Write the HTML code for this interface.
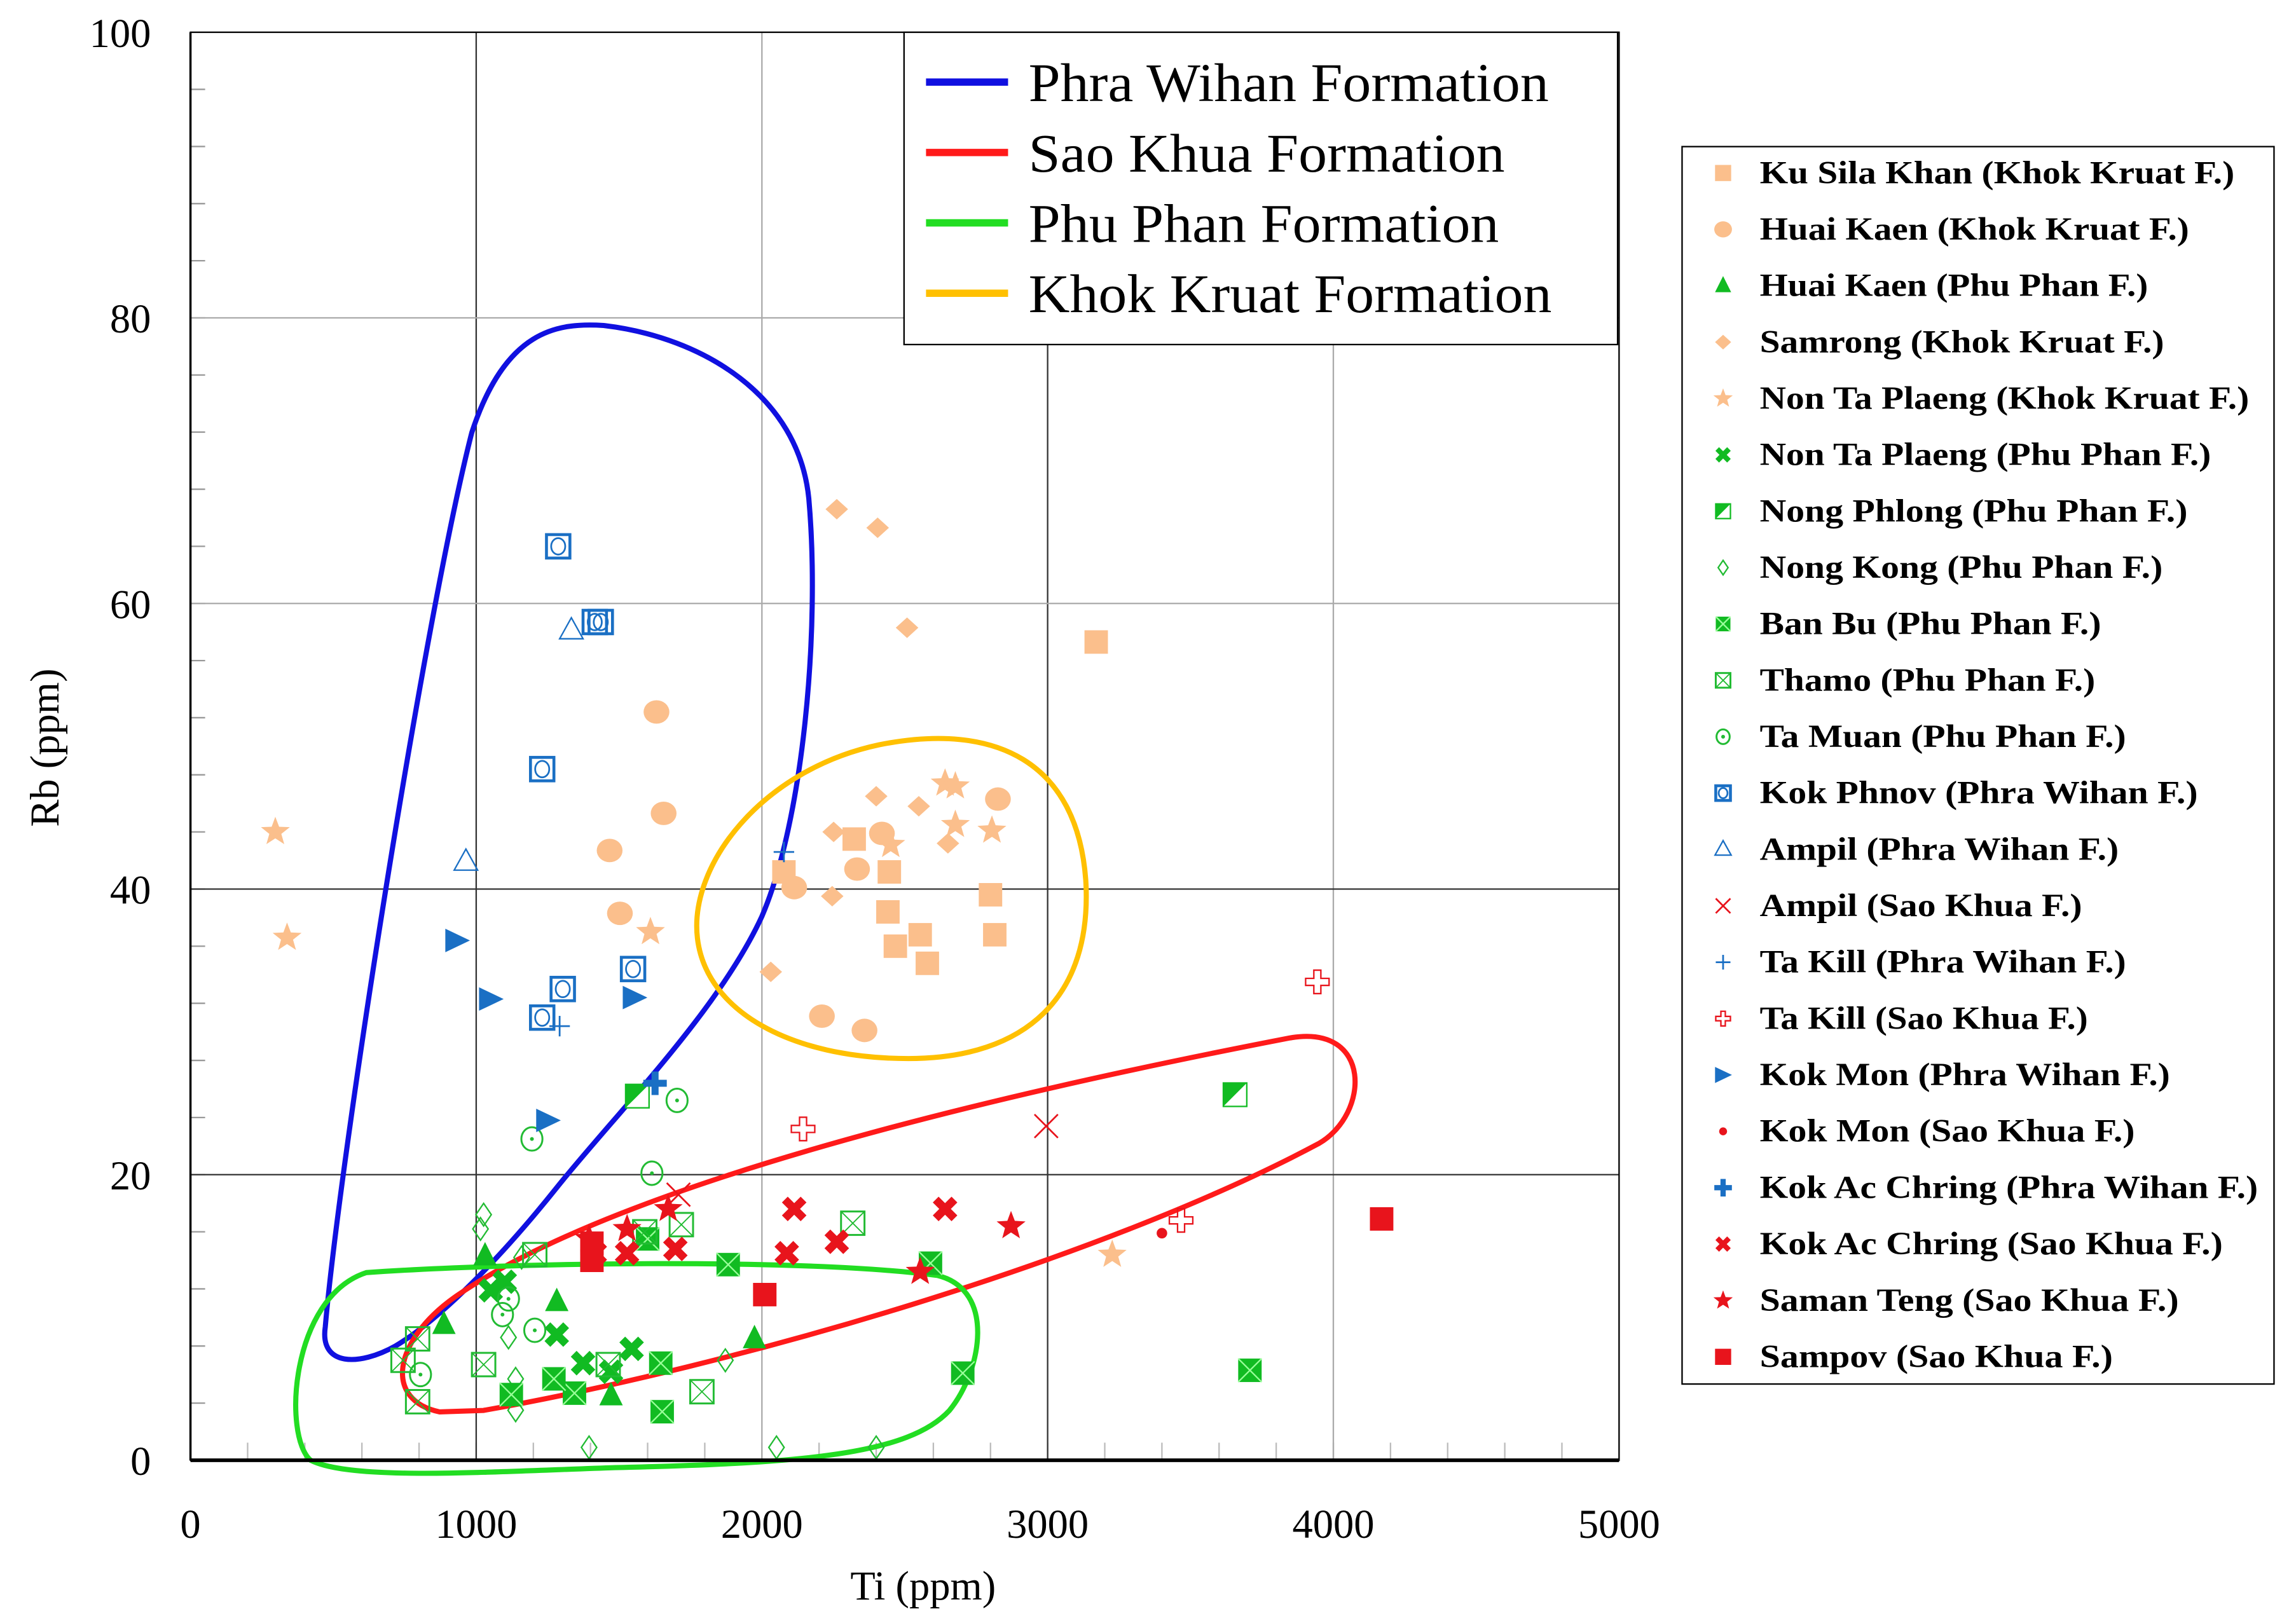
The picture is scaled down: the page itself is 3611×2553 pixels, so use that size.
<!DOCTYPE html>
<html><head><meta charset="utf-8"><style>
html,body{margin:0;padding:0;background:#fff;}
svg{display:block;}
text{font-family:"Liberation Serif",serif;}
</style></head><body>
<svg id="chart" width="3611" height="2553" viewBox="0 0 1567 1107" preserveAspectRatio="none" xmlns="http://www.w3.org/2000/svg">
<rect x="0" y="0" width="1567" height="1107" fill="#fff"/>
<g id="grid"></g>
<g id="curves">
<path d="M 222,905 C 232,790 290,420 322,295 C 345,225 380,220 412,222 C 480,230 545,270 552,340 C 560,430 548,560 520,625 C 490,690 420,760 380,810 C 340,860 300,900 270,918 C 245,932 218,932 222,905 Z" fill="none" stroke="#1010e0" stroke-width="3.5"/>
<path d="M 476,640 C 470,590 520,525 600,508 C 680,492 735,520 741,600 C 746,680 700,722 620,722 C 540,722 482,690 476,640 Z" fill="none" stroke="#ffc000" stroke-width="3.5"/>
<path d="M 300,963 C 262,955 268,915 310,885 C 400,822 600,762 880,708 C 937,698 935,760 900,780 C 750,860 500,932 330,962 Z" fill="none" stroke="#ff1a1a" stroke-width="3.5"/>
<path d="M 250,868 C 350,861 550,858 640,870 C 680,880 670,935 648,962 C 620,992 550,998 420,1001 C 330,1004 240,1010 212,996 C 193,980 198,885 250,868 Z" fill="none" stroke="#22dd22" stroke-width="3.5"/>
</g>
<g id="marks"></g>
<g id="axes"></g>
<g>
<rect x="617" y="22" width="487" height="213" fill="#fff" stroke="#000" stroke-width="1"/>
<line x1="632" y1="56" x2="688" y2="56" stroke="#1010e0" stroke-width="5"/>
<text x="702" y="69" font-size="37" textLength="355" lengthAdjust="spacingAndGlyphs">Phra Wihan Formation</text>
<line x1="632" y1="104" x2="688" y2="104" stroke="#ff1a1a" stroke-width="5"/>
<text x="702" y="117" font-size="37" textLength="325" lengthAdjust="spacingAndGlyphs">Sao Khua Formation</text>
<line x1="632" y1="152" x2="688" y2="152" stroke="#22dd22" stroke-width="5"/>
<text x="702" y="165" font-size="37" textLength="321" lengthAdjust="spacingAndGlyphs">Phu Phan Formation</text>
<line x1="632" y1="200" x2="688" y2="200" stroke="#ffc000" stroke-width="5"/>
<text x="702" y="213" font-size="37" textLength="357" lengthAdjust="spacingAndGlyphs">Khok Kruat Formation</text>
</g>
<g id="legend2">
<rect x="1148" y="100" width="404" height="844" fill="#fff" stroke="#000" stroke-width="1"/>
</g>
</svg>
<script>
const xTicks=[0,1000,2000,3000,4000,5000];
const yTicks=[0,20,40,60,80,100];
const seriesNames=["Ku Sila Khan (Khok Kruat F.)","Huai Kaen (Khok Kruat F.)","Huai Kaen (Phu Phan F.)","Samrong (Khok Kruat F.)","Non Ta Plaeng (Khok Kruat F.)","Non Ta Plaeng (Phu Phan F.)","Nong Phlong (Phu Phan F.)","Nong Kong (Phu Phan F.)","Ban Bu (Phu Phan F.)","Thamo (Phu Phan F.)","Ta Muan (Phu Phan F.)","Kok Phnov (Phra Wihan F.)","Ampil (Phra Wihan F.)","Ampil (Sao Khua F.)","Ta Kill (Phra Wihan F.)","Ta Kill (Sao Khua F.)","Kok Mon (Phra Wihan F.)","Kok Mon (Sao Khua F.)","Kok Ac Chring (Phra Wihan F.)","Kok Ac Chring (Sao Khua F.)","Saman Teng (Sao Khua F.)","Sampov (Sao Khua F.)"];
const legendEnds=[1525,1494,1466,1477,1535,1509,1493,1476,1434,1430,1451,1500,1446,1421,1451,1425,1481,1457,1541,1517,1487,1442];
const seriesMarker=["square","circle","triangle","diamond","star","xbold","halfsq","odiamond","boxx","oboxx","dotcircle","sqcircle","otriangle","xthin","plus","ocross","rtri","dot","plusbold","xbold","star","square"];
const seriesColor=["#fbbf8c","#fbbf8c","#11bb22","#fbbf8c","#fbbf8c","#11bb22","#11bb22","#22bb33","#11bb22","#22bb33","#22bb33","#1a6fc4","#1a6fc4","#e8141c","#1a6fc4","#e8141c","#1a6fc4","#e8141c","#1a6fc4","#e8141c","#e8141c","#e8141c"];
const tiValues=[
[3170,2077,2446,2323,2441,2467,2554,2579,2800,2815],
[1631,1656,1467,1503,2113,2210,2359,2420,2333,2826],
[887,1031,1282,1472,1974],
[2262,2405,2508,2400,2549,2251,2246,2651,2031],
[297,338,1610,2641,2677,2805,2677,2451,3226],
[1051,1282,1374,1544,1472,1100],
[1564,3656],
[1026,1015,1113,1138,1138,1395,2051,2400,1872,1159],
[1882,2590,2703,3708,1651,1344,1123,1646,1272,1600],
[795,744,1026,1718,2318,1790,1462,1590,1205,795],
[1195,1703,1615,1205,1113,1092,805],
[1287,1415,1436,1231,1303,1231,1549],
[1333,964],
[2995,1708],
[2077,1292],
[3944,2144,3467],
[933,1051,1554,1251],
[3400],
[1626],
[2113,2641,2087,2262,1528,1415,1697],
[1672,2872,2554,1528,1395],
[4169,2010,1405,1405]];
const rbValues=[
[57.3,41.2,41.2,43.5,38.4,36,36.8,34.8,39.6,36.8],
[52.4,45.3,42.7,38.3,40.1,31.1,30.1,43.9,41.4,46.3],
[9.5,14.3,11.1,4.5,8.5],
[66.6,65.3,58.3,46.5,45.8,44,39.5,43.2,34.2],
[44,36.6,37,47.4,47.2,44.1,44.5,43.1,14.4],
[11.9,8.8,6.8,7.8,6.2,12.5],
[25.5,25.6],
[17.2,16.2,8.6,5.7,3.5,0.9,0.9,0.9,7,14.2],
[13.7,13.8,6.1,6.3,3.4,4.7,4.6,6.8,5.7,15.5],
[4.1,7,6.7,16.5,16.6,4.8,6.7,16,14.4,8.5],
[22.5,25.2,20.1,9.1,11.3,10.2,6],
[64,58.7,58.7,48.4,33,31,34.4],
[58.1,41.9],
[23.4,18.6],
[42.6,30.4],
[33.5,23.2,16.8],
[36.4,32.3,32.4,23.8],
[15.9],
[26.4],
[17.6,17.6,14.5,15.3,14.5,14.5,14.8],
[17.6,16.4,13.2,16.2,15.5],
[16.9,11.6,14,15.2]];
const NS="http://www.w3.org/2000/svg";
const X0=130,X1=1105,Y0=996,Y1=22;
function sx(v){return X0+(v-0)/5000*(X1-X0);}
function sy(v){return Y0-(v-0)/100*(Y0-Y1);}
function mk(tag,attrs,parent){const e=document.createElementNS(NS,tag);for(const k in attrs)e.setAttribute(k,attrs[k]);parent.appendChild(e);return e;}
const grid=document.getElementById('grid');
for(let v=200;v<5000;v+=200){mk('line',{x1:sx(v),x2:sx(v),y1:Y0,y2:Y0-12,stroke:'#bbb','stroke-width':1},grid);}
for(let v=4;v<100;v+=4){mk('line',{x1:X0,x2:X0+10,y1:sy(v),y2:sy(v),stroke:'#999','stroke-width':1},grid);}
xTicks.forEach((t,i)=>{if(i>0&&i<xTicks.length-1){const g=mk('line',{x1:sx(t),x2:sx(t),y1:Y0,y2:Y1,stroke:(i%2==1)?'#333':'#aaa','stroke-width':1},grid);}});
yTicks.forEach((t,i)=>{if(i>0&&i<yTicks.length-1){const g=mk('line',{x1:X0,x2:X1,y1:sy(t),y2:sy(t),stroke:(i<=2)?'#333':'#aaa','stroke-width':1},grid);}});
const axes=document.getElementById('axes');
mk('rect',{x:X0,y:Y1,width:X1-X0,height:Y0-Y1,fill:'none',stroke:'#000','stroke-width':1},axes);
mk('line',{x1:X0,x2:X1,y1:Y0,y2:Y0,stroke:'#000','stroke-width':2.5},axes);
mk('line',{x1:X0,x2:X0,y1:Y0,y2:Y1,stroke:'#000','stroke-width':1.5},axes);
xTicks.forEach(t=>{const e=mk('text',{x:sx(t),y:1049,'font-size':28,'text-anchor':'middle'},axes);e.textContent=t;});
yTicks.forEach(t=>{const e=mk('text',{x:103,y:sy(t)+10,'font-size':28,'text-anchor':'end'},axes);e.textContent=t;});
const xt=mk('text',{x:630,y:1091,'font-size':28,'text-anchor':'middle'},axes);xt.textContent='Ti (ppm)';


const yt=mk('text',{x:0,y:0,'font-size':28,'text-anchor':'middle',transform:'translate(40,510) rotate(-90)'},axes);yt.textContent='Rb (ppm)';


function star(cx,cy,R){let p=[];for(let i=0;i<10;i++){const r=i%2?R*0.42:R;const a=-Math.PI/2+i*Math.PI/5;p.push((cx+r*Math.cos(a)).toFixed(1)+','+(cy+r*Math.sin(a)).toFixed(1));}return p.join(' ');}
function drawMarker(type,cx,cy,s,c,parent){
const g=mk('g',{},parent);
switch(type){
case 'square':mk('rect',{x:cx-s,y:cy-s,width:2*s,height:2*s,fill:c},g);break;
case 'circle':mk('ellipse',{cx:cx,cy:cy,rx:s*1.1,ry:s,fill:c},g);break;
case 'triangle':mk('polygon',{points:`${cx},${cy-s*1.2} ${cx-s},${cy+s*0.8} ${cx+s},${cy+s*0.8}`,fill:c},g);break;
case 'otriangle':mk('polygon',{points:`${cx},${cy-s*1.1} ${cx-s},${cy+s*0.7} ${cx+s},${cy+s*0.7}`,fill:'none',stroke:c,'stroke-width':1},g);break;
case 'diamond':mk('polygon',{points:`${cx},${cy-s} ${cx+s*1.1},${cy} ${cx},${cy+s} ${cx-s*1.1},${cy}`,fill:c},g);break;
case 'odiamond':mk('polygon',{points:`${cx},${cy-s*1.1} ${cx+s*0.75},${cy} ${cx},${cy+s*1.1} ${cx-s*0.75},${cy}`,fill:'none',stroke:c,'stroke-width':1},g);break;
case 'star':mk('polygon',{points:star(cx,cy,s*1.15),fill:c},g);break;
case 'xbold':mk('path',{d:`M${cx-s*0.8},${cy-s*0.8}L${cx+s*0.8},${cy+s*0.8}M${cx+s*0.8},${cy-s*0.8}L${cx-s*0.8},${cy+s*0.8}`,stroke:c,'stroke-width':s*0.7,fill:'none'},g);break;
case 'xthin':mk('path',{d:`M${cx-s},${cy-s}L${cx+s},${cy+s}M${cx+s},${cy-s}L${cx-s},${cy+s}`,stroke:c,'stroke-width':1.2,fill:'none'},g);break;
case 'plus':mk('path',{d:`M${cx-s},${cy}L${cx+s},${cy}M${cx},${cy-s}L${cx},${cy+s}`,stroke:c,'stroke-width':1.2,fill:'none'},g);break;
case 'plusbold':mk('path',{d:`M${cx-s},${cy}L${cx+s},${cy}M${cx},${cy-s}L${cx},${cy+s}`,stroke:c,'stroke-width':s*0.6,fill:'none'},g);break;
case 'ocross':mk('path',{d:`M${cx-s*0.3},${cy-s}h${s*0.6}v${s*0.7}h${s*0.7}v${s*0.6}h${-s*0.7}v${s*0.7}h${-s*0.6}v${-s*0.7}h${-s*0.7}v${-s*0.6}h${s*0.7}z`,stroke:c,'stroke-width':1,fill:'none'},g);break;
case 'halfsq':mk('rect',{x:cx-s,y:cy-s,width:2*s,height:2*s,fill:'#fff',stroke:c,'stroke-width':1},g);mk('polygon',{points:`${cx-s},${cy-s} ${cx+s},${cy-s} ${cx-s},${cy+s}`,fill:c},g);break;
case 'boxx':mk('rect',{x:cx-s,y:cy-s,width:2*s,height:2*s,fill:c},g);mk('path',{d:`M${cx-s},${cy-s}L${cx+s},${cy+s}M${cx+s},${cy-s}L${cx-s},${cy+s}`,stroke:'#9f9','stroke-width':1},g);break;
case 'oboxx':mk('rect',{x:cx-s,y:cy-s,width:2*s,height:2*s,fill:'none',stroke:c,'stroke-width':1.3},g);mk('path',{d:`M${cx-s},${cy-s}L${cx+s},${cy+s}M${cx+s},${cy-s}L${cx-s},${cy+s}`,stroke:c,'stroke-width':0.8},g);break;
case 'dotcircle':mk('ellipse',{cx:cx,cy:cy,rx:s*0.9,ry:s,fill:'none',stroke:c,'stroke-width':1.3},g);mk('circle',{cx:cx,cy:cy,r:1.3,fill:c},g);break;
case 'sqcircle':mk('rect',{x:cx-s,y:cy-s,width:2*s,height:2*s,fill:'none',stroke:c,'stroke-width':2},g);mk('ellipse',{cx:cx,cy:cy,rx:s*0.6,ry:s*0.7,fill:'none',stroke:c,'stroke-width':1.2},g);break;
case 'rtri':mk('polygon',{points:`${cx-s},${cy-s} ${cx+s*1.1},${cy} ${cx-s},${cy+s}`,fill:c},g);break;
case 'dot':mk('circle',{cx:cx,cy:cy,r:s*0.45,fill:c},g);break;
}
return g;}
const marks=document.getElementById('marks');
const sizes={square:8,circle:8,triangle:8,diamond:7,star:9,xbold:8,halfsq:8,odiamond:7,boxx:8,oboxx:8,dotcircle:8,sqcircle:8,otriangle:8,xthin:8,plus:7,ocross:8,rtri:8,dot:8,plusbold:8};
tiValues.forEach((arr,si)=>{
 const sg=mk('g',{},marks);
 
 
 arr.forEach((tv,i)=>{
  const m=drawMarker(seriesMarker[si],sx(tv),sy(rbValues[si][i]),sizes[seriesMarker[si]],seriesColor[si],sg);
  
  
 });
});
const lg=document.getElementById('legend2');
seriesNames.forEach((n,i)=>{
 const y=118+i*38.45;
 const smallS={square:5.5,circle:5.5,triangle:5.5,diamond:5,star:6,xbold:5,halfsq:5,odiamond:4.5,boxx:5,oboxx:5,dotcircle:5,sqcircle:5,otriangle:5.5,xthin:5,plus:5,ocross:5,rtri:5.5,dot:6,plusbold:6}[seriesMarker[i]];
 const m=drawMarker(seriesMarker[i],1176,y,smallS,seriesColor[i],lg);
 
 
 const t=mk('text',{x:1201,y:y+7,'font-size':22,'font-weight':'bold',textLength:legendEnds[i]-1201,lengthAdjust:'spacingAndGlyphs'},lg);
 t.textContent=n;
 
 
});
</script>
</body></html>
